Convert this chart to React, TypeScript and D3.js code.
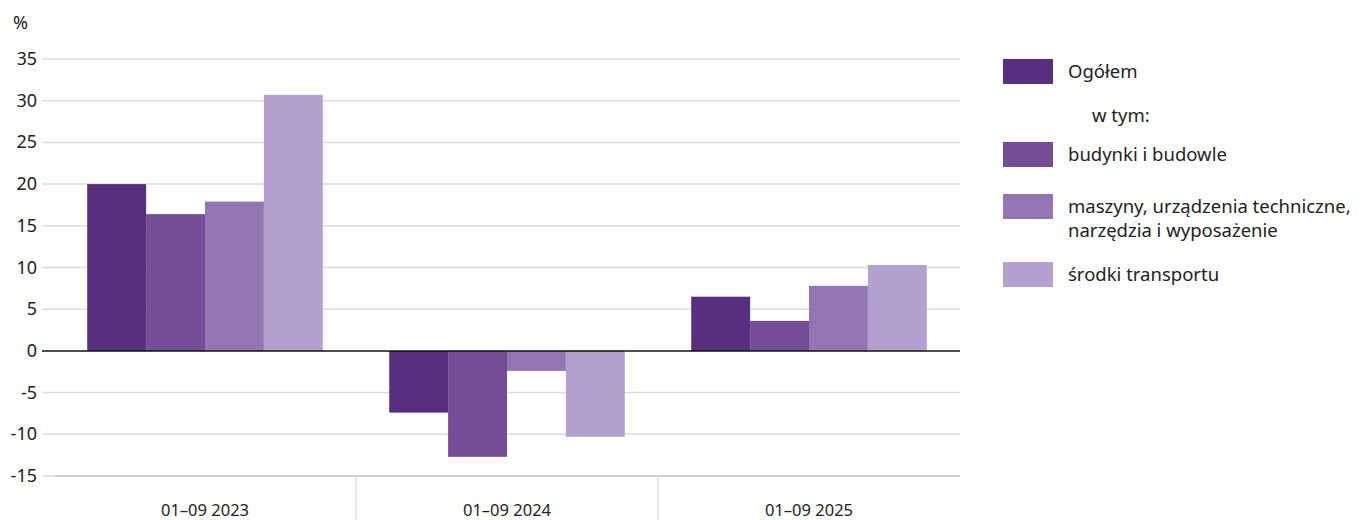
import React from "react";
import * as d3 from "d3";

const categories = ["01–09 2023", "01–09 2024", "01–09 2025"];
const seriesNames = ["Ogółem", "budynki i budowle", "maszyny, urządzenia techniczne, narzędzia i wyposażenie", "środki transportu"];
const ogolem = [20.0, -7.4, 6.5];
const budynki = [16.4, -12.7, 3.6];
const maszyny = [17.9, -2.4, 7.8];
const transport = [30.7, -10.3, 10.3];
const yTicks = [-15, -10, -5, 0, 5, 10, 15, 20, 25, 30, 35];
const colors = ["#56307f", "#744d96", "#9276b2", "#b3a1cf"];

const series = [ogolem, budynki, maszyny, transport];

export default function App() {
  const W = 1366, H = 520;
  const left = 54, right = 960, top = 59, bottom = 476;
  const y = d3.scaleLinear().domain([-15, 35]).range([bottom, top]);
  const x0 = d3.scaleBand<string>().domain(categories).range([left, right]).paddingInner(0).paddingOuter(0);
  const inner = 0.78;
  const x1 = d3.scaleBand<number>().domain(d3.range(series.length)).range([0, x0.bandwidth() * inner]);
  const font = "'Noto Sans', sans-serif";

  const legendItems = [
    { y: 59, lines: ["Ogółem"], color: colors[0] },
    { y: 142, lines: ["budynki i budowle"], color: colors[1] },
    { y: 194, lines: ["maszyny, urządzenia techniczne,", "narzędzia i wyposażenie"], color: colors[2] },
    { y: 262, lines: ["środki transportu"], color: colors[3] },
  ];

  return (
    <svg width={W} height={H} style={{ position: "absolute", left: 0, top: 0, background: "#fff" }} fontFamily={font}>
      <text x={13} y={29} fontSize={18} fill="#222">%</text>
      {yTicks.map((t) => (
        <g key={t}>
          {t !== 0 && <line x1={42} x2={right} y1={y(t)} y2={y(t)} stroke="#dcdcdc" strokeWidth={1.5} />}
          <text x={37} y={y(t) + 6} textAnchor="end" fontSize={18} fill="#222">{t}</text>
        </g>
      ))}
      <line x1={left} x2={right} y1={bottom} y2={bottom} stroke="#c8c8c8" strokeWidth={1.5} />
      {categories.slice(1).map((c) => (
        <line key={c} x1={x0(c)!} x2={x0(c)!} y1={bottom} y2={H} stroke="#d8d8d8" strokeWidth={1.2} />
      ))}
      {categories.map((c, ci) => {
        const gx = x0(c)! + (x0.bandwidth() * (1 - inner)) / 2;
        return (
          <g key={c}>
            {series.map((s, si) => {
              const v = s[ci];
              return (
                <rect key={si} x={gx + x1(si)!} width={x1.bandwidth()} y={y(Math.max(0, v))} height={Math.abs(y(v) - y(0))} fill={colors[si]} />
              );
            })}
            <text x={x0(c)! + x0.bandwidth() / 2} y={516} textAnchor="middle" fontSize={16.5} fill="#222">{c}</text>
          </g>
        );
      })}
      <line x1={42} x2={right} y1={y(0)} y2={y(0)} stroke="#111" strokeWidth={1.5} />
      {legendItems.map((it, i) => (
        <g key={i}>
          <rect x={1003} y={it.y} width={50} height={25} fill={it.color} />
          {it.lines.map((ln, li) => (
            <text key={li} x={1068} y={it.y + 19 + li * 24} fontSize={18.5} fill="#222">{ln}</text>
          ))}
        </g>
      ))}
      <text x={1092} y={122} fontSize={18.5} fill="#222">w tym:</text>
    </svg>
  );
}
